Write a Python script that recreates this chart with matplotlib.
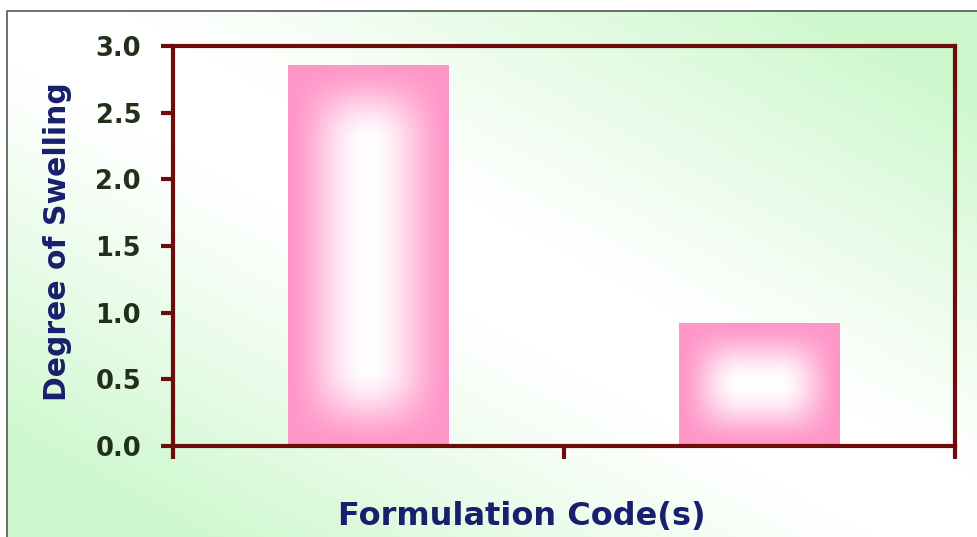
import numpy as np
import matplotlib.pyplot as plt
from matplotlib.colors import to_rgb

# swelling data
codes = ["F1", "F2"]
swelling = [2.86, 0.92]
y_ticks = [0.0, 0.5, 1.0, 1.5, 2.0, 2.5, 3.0]

W, H = 978, 537
maroon = "#6e0c0c"
navy = "#18206e"
tick_col = "#22301a"
pink = np.array(to_rgb("#ff96c8"))
green = np.array(to_rgb("#cdf8cd"))

fig = plt.figure(figsize=(W / 100, H / 100), dpi=100)

# slide background: soft diagonal green/white wash
bg = fig.add_axes([0, 0, 1, 1], zorder=-1)
yy, xx = np.mgrid[0:H, 0:W]
u = xx / W
v = yy / H
t = np.clip(np.abs(u - v) * 1.4 - 0.15, 0, 1) ** 1.1
img = 1 - t[..., None] * (1 - green)
img[:11, :, :] = 1.0
img[:, :7, :] = 1.0
bg.imshow(img, extent=(0, W, H, 0), aspect="auto", interpolation="bilinear")
bg.plot([7, 7, W], [H, 11, 11], color="#555555", lw=1.2)
bg.set_xlim(0, W)
bg.set_ylim(H, 0)
bg.axis("off")

ax = fig.add_axes([173 / W, 1 - 446 / H, 782 / W, 400 / H])
ax.set_facecolor("none")
x = np.arange(len(codes))
ax.set_xlim(-0.5, len(codes) - 0.5)
ax.set_ylim(0, 3.0)

bars = ax.bar(x, swelling, width=0.41, color=pink, edgecolor="none", zorder=2)

# soft gradient inside each bar: pink at the edges, white towards the middle
sx = ax.transData.transform((1, 0))[0] - ax.transData.transform((0, 0))[0]
sy = ax.transData.transform((0, 1))[1] - ax.transData.transform((0, 0))[1]
for b in bars:
    bw, bh = b.get_width(), b.get_height()
    nx, ny = int(bw * sx), int(bh * sy)
    py, px = np.mgrid[0:ny, 0:nx]
    half = min(nx, ny) / 2
    ex = np.clip(np.minimum(px, nx - 1 - px) / half, 0, 1)
    ey = np.clip(np.minimum(py, ny - 1 - py) / half, 0, 1)
    f = (np.sin(ex * np.pi / 2) * np.sin(ey * np.pi / 2)) ** 1.6
    col = pink[None, None, :] * (1 - f[..., None]) + f[..., None]
    im = ax.imshow(col, extent=(b.get_x(), b.get_x() + bw, 0, bh),
                   aspect="auto", interpolation="bilinear", zorder=3)
    im.set_clip_path(b)

for s in ax.spines.values():
    s.set_color(maroon)
    s.set_linewidth(3)
    s.set_zorder(5)

ax.set_yticks(y_ticks)
ax.set_yticklabels([f"{v:.1f}" for v in y_ticks])
ax.set_xticks(np.arange(-0.5, len(codes), 1.0))
ax.set_xticklabels([])
ax.tick_params(axis="both", direction="out", length=9, width=3, color=maroon)
ax.tick_params(axis="y", pad=14, labelsize=18.5, labelcolor=tick_col)
for lab in ax.get_yticklabels():
    lab.set_fontweight("bold")
    lab.set_family("DejaVu Sans")

fig.text(58 / W, 1 - 242 / H, "Degree of Swelling", rotation=90,
         ha="center", va="center", fontsize=21.5, fontweight="bold",
         color=navy, family="DejaVu Sans")
fig.text(522 / W, 1 - 516 / H, "Formulation Code(s)", ha="center",
         va="center", fontsize=23, fontweight="bold", color=navy,
         family="DejaVu Sans")

fig.savefig("out.png", dpi=100)
